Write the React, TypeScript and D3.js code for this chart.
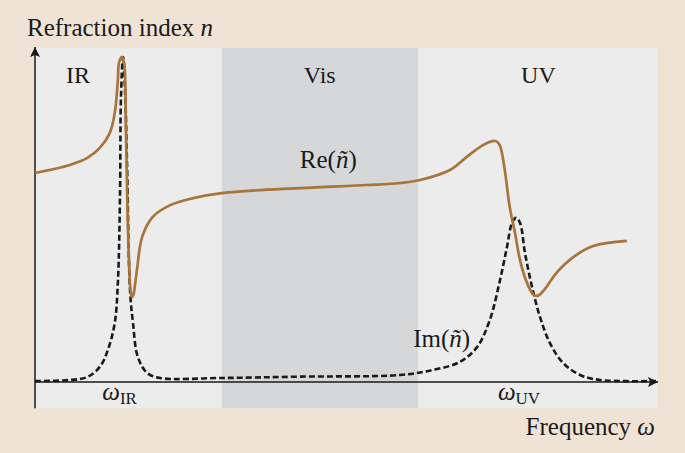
import * as d3 from "d3";
import {useEffect, useRef} from "react";

// frequency (arbitrary units, 0..100) and refraction index (arbitrary units, 0..10)
const reFreq = [0, 5.6, 8.4, 10.4, 12.0, 12.8, 13.3, 13.5, 13.96, 14.3, 14.6, 14.8, 15.1, 15.33, 15.57, 15.8, 16.05, 16.4, 17.2, 18.9, 21.7, 25.4, 30.0, 42.5, 53.3, 58.6, 61.8, 66.6, 69.3, 71.9, 73.4, 74.0, 74.6, 75.4, 76.2, 77.05, 77.85, 78.97, 79.94, 80.6, 81.5, 83.8, 86.4, 89.6, 95.0];
const reValue = [6.24, 6.48, 6.69, 6.99, 7.43, 8.03, 9.01, 9.55, 9.7, 9.52, 7.52, 5.52, 3.55, 2.75, 2.53, 2.6, 2.9, 3.4, 4.33, 4.93, 5.28, 5.49, 5.64, 5.79, 5.88, 5.94, 6.03, 6.33, 6.72, 7.07, 7.19, 7.19, 7.07, 6.33, 5.22, 4.45, 3.64, 2.96, 2.62, 2.57, 2.7, 3.28, 3.73, 4.06, 4.21];

const imFreq = [0, 5.6, 8.4, 10.4, 11.7, 12.8, 13.3, 13.64, 13.8, 14.13, 14.45, 14.77, 15.25, 15.73, 16.5, 18.0, 20.1, 30.0, 42.5, 58.6, 63.9, 68.2, 70.95, 73.0, 74.64, 75.76, 76.57, 77.21, 77.85, 78.65, 79.78, 81.06, 82.66, 84.75, 87.5, 90.7, 100];
const imValue = [0.03, 0.06, 0.15, 0.45, 0.96, 1.76, 2.96, 5.52, 8.51, 9.7, 8.72, 6.54, 2.75, 1.76, 0.75, 0.27, 0.12, 0.12, 0.16, 0.21, 0.36, 0.6, 1.04, 1.85, 3.04, 4.03, 4.75, 4.9, 4.75, 3.85, 2.84, 1.94, 1.16, 0.57, 0.21, 0.06, 0.03];

const bands = ["IR", "Vis", "UV"];
const bandStart = [0, 30.0, 61.5];
const bandEnd = [30.0, 61.5, 100];
const bandLabelAt = [6.9, 45.7, 80.8];

const resonanceLabels = ["IR", "UV"];
const resonanceAt = [10.8, 74.3];

const BG = "#efe3d6";
const PLOT = "#ececec";
const VIS = "#d6d7d9";
const BROWN = "#a8743a";
const INK = "#1a1a1a";
const FONT = "'Liberation Serif', 'Times New Roman', serif";

export default function App() {
    const ref = useRef<SVGSVGElement>(null);

    useEffect(() => {
        const width = 685;
        const height = 453;
        const svg = d3.select(ref.current);
        svg.selectAll("*").remove();
        svg.attr("width", width).attr("height", height);

        const x = d3.scaleLinear().domain([0, 100]).range([35, 658]);
        const y = d3.scaleLinear().domain([0, 10]).range([382, 47]);
        const bandBottom = y(-0.78);

        svg.append("rect").attr("width", width).attr("height", height).attr("fill", BG);

        // region shading
        svg.selectAll("rect.band")
            .data(bands)
            .enter()
            .append("rect")
            .attr("class", "band")
            .attr("x", (d, i) => x(bandStart[i]))
            .attr("y", y(10) + 1)
            .attr("width", (d, i) => x(bandEnd[i]) - x(bandStart[i]))
            .attr("height", bandBottom - y(10) - 1)
            .attr("fill", d => d === "Vis" ? VIS : PLOT);

        svg.selectAll("text.band")
            .data(bands)
            .enter()
            .append("text")
            .attr("class", "band")
            .attr("x", (d, i) => x(bandLabelAt[i]))
            .attr("y", 83)
            .attr("text-anchor", "middle")
            .attr("font-family", FONT)
            .attr("font-size", 24)
            .attr("fill", INK)
            .text(d => d);

        // arrows
        const defs = svg.append("defs");
        defs.append("marker")
            .attr("id", "arrow")
            .attr("viewBox", "0 0 10 10")
            .attr("refX", 10)
            .attr("refY", 5)
            .attr("markerWidth", 20)
            .attr("markerHeight", 10)
            .attr("markerUnits", "userSpaceOnUse")
            .attr("orient", "auto")
            .append("path")
            .attr("d", "M0,0 L10,5 L0,10 L2,5 Z")
            .attr("fill", INK);

        svg.append("line")
            .attr("x1", x(0)).attr("x2", x(0))
            .attr("y1", bandBottom).attr("y2", y(10))
            .attr("stroke", INK).attr("stroke-width", 1.5)
            .attr("marker-end", "url(#arrow)");

        const line = d3.line<number>().curve(d3.curveCatmullRom.alpha(0.5));

        // Im part, dashed
        svg.append("path")
            .attr("d", line.x(d => x(d)).y((d, i) => y(imValue[i]))(imFreq))
            .attr("fill", "none")
            .attr("stroke", INK)
            .attr("stroke-width", 2.6)
            .attr("stroke-dasharray", "6,3");

        svg.append("line")
            .attr("x1", x(0)).attr("x2", x(100))
            .attr("y1", y(0)).attr("y2", y(0))
            .attr("stroke", INK).attr("stroke-width", 1.5)
            .attr("marker-end", "url(#arrow)");

        // Re part
        svg.append("path")
            .attr("d", line.x(d => x(d)).y((d, i) => y(reValue[i]))(reFreq))
            .attr("fill", "none")
            .attr("stroke", BROWN)
            .attr("stroke-width", 2.7)
            .attr("stroke-linejoin", "round");

        const txt = (tx, ty, size) => svg.append("text")
            .attr("x", tx).attr("y", ty)
            .attr("font-family", FONT)
            .attr("font-size", size)
            .attr("fill", INK);

        txt(27, 36, 25).text("Refraction index ").append("tspan").attr("font-style", "italic").text("n");

        const re = txt(x(42.5), 168, 25).text("Re(");
        re.append("tspan").attr("font-style", "italic").text("ñ");
        re.append("tspan").text(")");

        const im = txt(x(60.7), 347, 25).text("Im(");
        im.append("tspan").attr("font-style", "italic").text("ñ");
        im.append("tspan").text(")");

        resonanceLabels.forEach((lab, i) => {
            const t = txt(x(resonanceAt[i]), 400, 25);
            t.append("tspan").attr("font-style", "italic").text("ω");
            t.append("tspan").attr("font-size", 17).attr("dy", 4).text(lab);
        });

        const f = txt(655, 435, 25).attr("text-anchor", "end").text("Frequency ");
        f.append("tspan").attr("font-style", "italic").text("ω");
    }, []);

    return <svg ref={ref} style={{display: "block", position: "absolute", left: 0, top: 0}}></svg>;
}
